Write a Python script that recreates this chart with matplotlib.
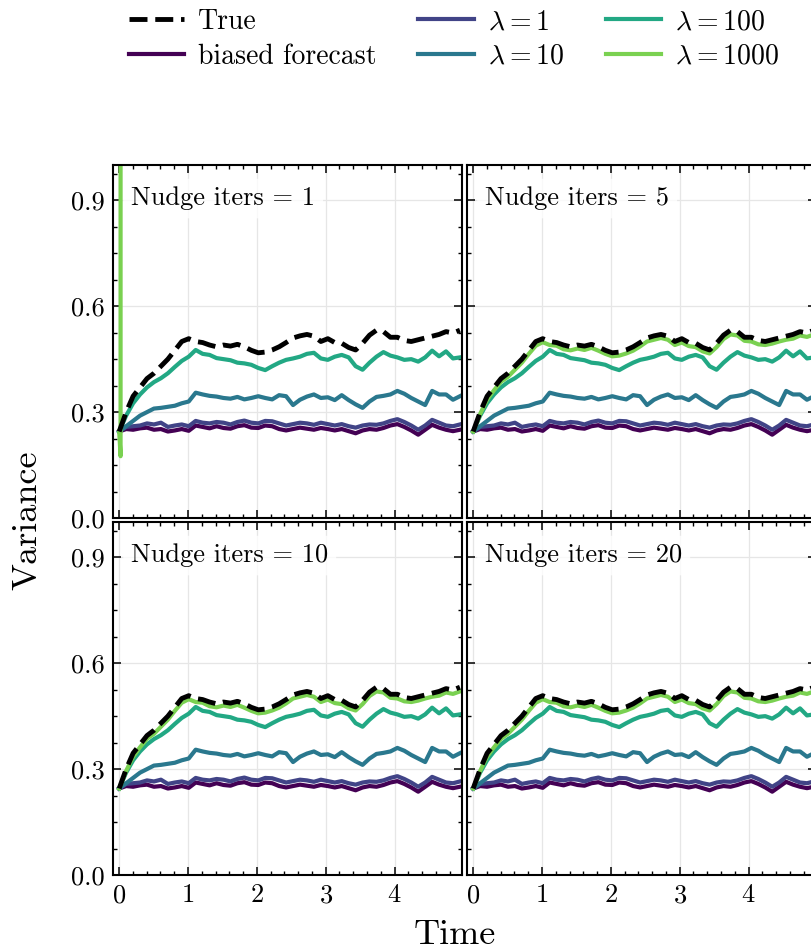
import numpy as np
import matplotlib
matplotlib.use("Agg")
import matplotlib.pyplot as plt
from matplotlib.ticker import MultipleLocator, AutoMinorLocator

plt.rcParams.update({
    "font.family": "serif",
    "font.serif": ["cmr10"],
    "mathtext.fontset": "cm",
    "axes.formatter.use_mathtext": True,
    "font.size": 19,
    "axes.linewidth": 1.5,
    "xtick.direction": "in",
    "ytick.direction": "in",
    "xtick.top": True,
    "ytick.right": True,
    "xtick.major.size": 6,
    "ytick.major.size": 6,
    "xtick.minor.size": 3,
    "ytick.minor.size": 3,
    "xtick.major.width": 1.1,
    "ytick.major.width": 1.1,
    "xtick.minor.width": 1.0,
    "ytick.minor.width": 1.0,
    "xtick.major.pad": 6,
    "ytick.major.pad": 6,
})

# time grid of the ensemble runs
time = np.linspace(0, 4.95, 50)

true_var = [0.245, 0.300, 0.345, 0.370, 0.395, 0.410, 0.430, 0.450, 0.475, 0.500,
            0.508, 0.500, 0.497, 0.490, 0.485, 0.490, 0.487, 0.492, 0.485, 0.475,
            0.468, 0.470, 0.476, 0.485, 0.497, 0.510, 0.516, 0.520, 0.515, 0.500,
            0.508, 0.497, 0.495, 0.483, 0.476, 0.495, 0.518, 0.532, 0.528, 0.512,
            0.512, 0.503, 0.500, 0.505, 0.510, 0.515, 0.520, 0.528, 0.524, 0.532]

biased_var = [0.245, 0.252, 0.250, 0.254, 0.256, 0.250, 0.252, 0.245, 0.248, 0.252,
              0.247, 0.262, 0.258, 0.254, 0.260, 0.255, 0.253, 0.260, 0.263, 0.256,
              0.255, 0.262, 0.260, 0.252, 0.248, 0.252, 0.256, 0.253, 0.250, 0.255,
              0.252, 0.248, 0.252, 0.246, 0.240, 0.248, 0.252, 0.250, 0.255, 0.262,
              0.266, 0.258, 0.248, 0.236, 0.250, 0.264, 0.256, 0.250, 0.246, 0.250]

lam1_var = [0.245, 0.258, 0.260, 0.262, 0.268, 0.265, 0.270, 0.258, 0.262, 0.265,
            0.260, 0.275, 0.270, 0.268, 0.272, 0.270, 0.265, 0.272, 0.276, 0.270,
            0.268, 0.275, 0.274, 0.268, 0.262, 0.266, 0.270, 0.268, 0.264, 0.270,
            0.266, 0.262, 0.266, 0.260, 0.256, 0.262, 0.265, 0.264, 0.268, 0.275,
            0.280, 0.272, 0.262, 0.250, 0.262, 0.278, 0.270, 0.262, 0.260, 0.265]

lam10_var = [0.245, 0.260, 0.275, 0.290, 0.300, 0.310, 0.312, 0.315, 0.318, 0.325,
             0.330, 0.355, 0.350, 0.346, 0.344, 0.340, 0.338, 0.343, 0.336, 0.340,
             0.345, 0.340, 0.336, 0.348, 0.345, 0.320, 0.335, 0.344, 0.350, 0.340,
             0.342, 0.334, 0.348, 0.334, 0.322, 0.312, 0.330, 0.343, 0.346, 0.350,
             0.360, 0.352, 0.340, 0.330, 0.320, 0.360, 0.350, 0.350, 0.335, 0.345]

lam100_var = [0.245, 0.290, 0.325, 0.350, 0.370, 0.385, 0.396, 0.410, 0.428, 0.445,
              0.457, 0.476, 0.465, 0.462, 0.453, 0.450, 0.447, 0.440, 0.438, 0.434,
              0.425, 0.419, 0.430, 0.440, 0.448, 0.452, 0.457, 0.465, 0.468, 0.452,
              0.448, 0.457, 0.462, 0.455, 0.430, 0.420, 0.440, 0.457, 0.470, 0.460,
              0.455, 0.448, 0.450, 0.443, 0.455, 0.474, 0.458, 0.472, 0.452, 0.455]

lam1000_var = [0.245, 0.295, 0.335, 0.362, 0.386, 0.400, 0.420, 0.440, 0.465, 0.488,
               0.498, 0.490, 0.488, 0.478, 0.475, 0.480, 0.476, 0.482, 0.474, 0.465,
               0.458, 0.460, 0.466, 0.474, 0.486, 0.500, 0.505, 0.510, 0.505, 0.490,
               0.497, 0.487, 0.484, 0.472, 0.466, 0.484, 0.507, 0.520, 0.517, 0.502,
               0.500, 0.492, 0.490, 0.494, 0.500, 0.505, 0.508, 0.517, 0.513, 0.520]

# with a single nudge iteration the lambda=1000 run blows up right away
lam1000_blowup_t = [0.0, 0.02, 0.03]
lam1000_blowup_var = [0.245, 0.175, 40.0]

nudge_iters = [1, 5, 10, 20]
lambdas = [1, 10, 100, 1000]

colors = plt.cm.viridis(np.linspace(0, 0.8, 5))

W, H = 811, 951
fig = plt.figure(figsize=(W / 100, H / 100), dpi=100)


def px_axes(left, top, w, h):
    return fig.add_axes([left / W, 1 - (top + h) / H, w / W, h / H])


lefts = [113, 467]
tops = [165, 522]
axes = []
for i, n in enumerate(nudge_iters):
    row, col = divmod(i, 2)
    ax = px_axes(lefts[col], tops[row], 349, 353)
    axes.append(ax)

    ax.plot(time, biased_var, color=colors[0], lw=3, label="biased forecast")
    ax.plot(time, lam1_var, color=colors[1], lw=3, label=r"$\lambda = %d$" % lambdas[0])
    ax.plot(time, lam10_var, color=colors[2], lw=3, label=r"$\lambda = %d$" % lambdas[1])
    ax.plot(time, lam100_var, color=colors[3], lw=3, label=r"$\lambda = %d$" % lambdas[2])
    if n == 1:
        ax.plot(lam1000_blowup_t, lam1000_blowup_var, color=colors[4], lw=3,
                label=r"$\lambda = %d$" % lambdas[3])
    else:
        ax.plot(time, lam1000_var, color=colors[4], lw=3,
                label=r"$\lambda = %d$" % lambdas[3])
    ax.plot(time, true_var, color="black", ls="--", lw=3.5, label="True", zorder=4)

    ax.set_xlim(-0.09, 4.98)
    ax.set_ylim(0, 1.0)
    ax.xaxis.set_major_locator(MultipleLocator(1))
    ax.xaxis.set_minor_locator(AutoMinorLocator(5))
    ax.yaxis.set_major_locator(MultipleLocator(0.3))
    ax.yaxis.set_minor_locator(AutoMinorLocator(4))
    ax.yaxis.set_major_formatter(plt.FormatStrFormatter("%.1f"))
    ax.grid(True, color="#e6e6e6", lw=0.9)
    ax.set_axisbelow(True)
    ax.tick_params(which="both", labelbottom=(row == 1), labelleft=(col == 0))

    ax.text(0.052, 0.905, f"Nudge iters = {n}", transform=ax.transAxes,
            ha="left", va="center", zorder=6,
            bbox=dict(boxstyle="round,pad=0.3", fc="white", ec="none", alpha=0.8))

handles, labels = axes[0].get_legend_handles_labels()
order = [5, 0, 1, 2, 3, 4]
fig.legend([handles[k] for k in order], [labels[k] for k in order],
           ncol=3, loc="upper center", bbox_to_anchor=(454 / W, 1.017),
           frameon=False, fontsize=20, columnspacing=1.5, labelspacing=0.3,
           handlelength=2.0, handletextpad=0.5)

fig.text(28 / W, 1 - 520 / H, "Variance", rotation=90, ha="center", va="center", fontsize=26)
fig.text(455 / W, 1 - 935 / H, "Time", ha="center", va="center", fontsize=26)

fig.savefig("out.png", dpi=100)
